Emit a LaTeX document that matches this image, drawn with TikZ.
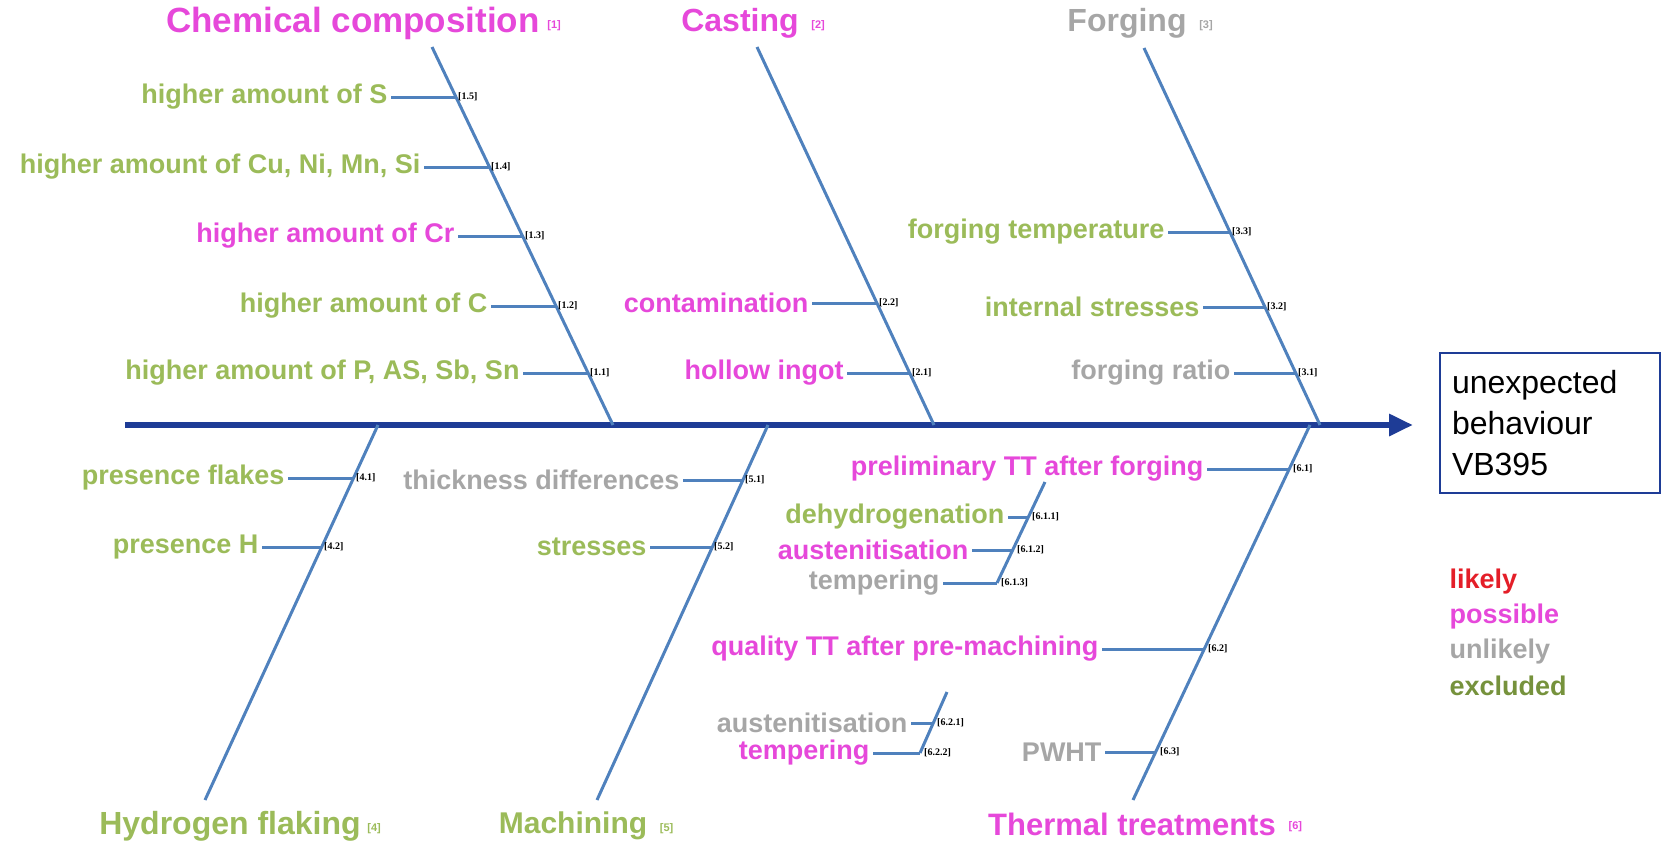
\documentclass[tikz,border=0pt]{standalone}
\usepackage{fontspec}
\setmainfont{Liberation Sans}
\newfontfamily\tagfont{Liberation Serif}
\usetikzlibrary{positioning,arrows.meta}

\definecolor{cpink}{RGB}{230,72,218}
\definecolor{cgreen}{RGB}{155,187,89}
\definecolor{cgray}{RGB}{166,166,166}
\definecolor{cdkgreen}{RGB}{118,146,60}
\definecolor{cred}{RGB}{228,30,40}
\definecolor{boneblue}{RGB}{79,129,189}
\definecolor{spineblue}{RGB}{30,60,150}

\begin{document}
\begin{tikzpicture}[x=1pt,y=-1pt,
  bone/.style={draw=boneblue,line width=3pt},
  cause/.style={font=\fontsize{27}{30}\selectfont\bfseries},
  head/.style={font=\fontsize{32}{36}\selectfont\bfseries},
  tag/.style={font=\tagfont\fontsize{10}{11}\selectfont\bfseries,inner sep=1pt},
  htag/.style={font=\fontsize{11}{12}\selectfont\bfseries,inner sep=1pt}
]
\useasboundingbox (0,0) rectangle (1666,849);

% spine and effect
\coordinate (tail) at (125,425);
\coordinate (tip) at (1413,425);
\draw[spineblue,line width=6pt,-{Triangle[length=24pt,width=21pt]}] (tail) -- (tip);
\node[draw=spineblue,line width=2.5pt,text width=196pt,inner sep=12pt,
      minimum height=140pt,align=left,font=\fontsize{32}{41}\selectfont] (effect)
      at (1550,423) {unexpected\\behaviour\\VB395};

% legend
\node[cause,anchor=west,text=cred] (lgLikely) at (1446,582) {likely};
\node[cause,anchor=west,text=cpink] (lgPossible) at (1446,617) {possible};
\node[cause,anchor=west,text=cgray] (lgUnlikely) at (1446,652) {unlikely};
\node[cause,anchor=west,text=cdkgreen] (lgExcluded) at (1446,686) {excluded};

% headings
\node[head,text=cpink,font=\fontsize{35}{38}\selectfont\bfseries] (hChem) at (353,23) {Chemical composition};
\node[head,text=cpink] (hCast) at (740,23) {Casting};
\node[head,text=cgray] (hForg) at (1127,23) {Forging};
\node[head,text=cgreen] (hHydr) at (230,826) {Hydrogen flaking};
\node[head,text=cgreen,font=\fontsize{30}{34}\selectfont\bfseries] (hMach) at (573,826) {Machining};
\node[head,text=cpink,font=\fontsize{31}{34}\selectfont\bfseries] (hTher) at (1132,824) {Thermal treatments};
\node[htag,text=cpink,right=3pt of hChem,yshift=-3pt] {[1]};
\node[htag,text=cpink,right=8pt of hCast,yshift=-3pt] {[2]};
\node[htag,text=cgray,right=8pt of hForg,yshift=-3pt] {[3]};
\node[htag,text=cgreen,right=2pt of hHydr,yshift=-3pt] {[4]};
\node[htag,text=cgreen,right=8pt of hMach,yshift=-3pt] {[5]};
\node[htag,text=cpink,right=8pt of hTher,yshift=-3pt] {[6]};

% bones
\coordinate (b1top) at (432,47);   \coordinate (b1bot) at (613,425);
\coordinate (b2top) at (757,47);   \coordinate (b2bot) at (934,425);
\coordinate (b3top) at (1144,48);  \coordinate (b3bot) at (1320,425);
\coordinate (b4top) at (378,425);  \coordinate (b4bot) at (205,800);
\coordinate (b5top) at (768,425);  \coordinate (b5bot) at (597,800);
\coordinate (b6top) at (1310,425); \coordinate (b6bot) at (1133,800);
\coordinate (s61top) at (1045,482); \coordinate (s61bot) at (997,583);
\coordinate (s62top) at (947,692);  \coordinate (s62bot) at (920,753);
\foreach \b in {b1,b2,b3,b4,b5,b6,s61,s62}
  \draw[bone] (\b top) -- (\b bot);

% (1) chemical composition
\foreach \i/\x/\y/\len/\col/\txt in {
  5/456/97/65pt/cgreen/{higher amount of S},
  4/489/167/65pt/cgreen/{higher amount of Cu, Ni, Mn, Si},
  3/523/236/65pt/cpink/{higher amount of Cr},
  2/556/306/65pt/cgreen/{higher amount of C},
  1/588/373/65pt/cgreen/{higher amount of P, AS, Sb, Sn}}{
  \coordinate (j1\i) at (\x,\y);
  \node[cause,text=\col,left=\len of j1\i] (c1\i) {\txt};
  \draw[bone] (c1\i.east) -- (j1\i);
  \node[tag,right=1pt of j1\i] {[1.\i]};
}

% (2) casting
\foreach \i/\x/\y/\len/\col/\txt in {
  2/877/303/65pt/cpink/{contamination},
  1/910/373/63pt/cpink/{hollow ingot}}{
  \coordinate (j2\i) at (\x,\y);
  \node[cause,text=\col,left=\len of j2\i] (c2\i) {\txt};
  \draw[bone] (c2\i.east) -- (j2\i);
  \node[tag,right=1pt of j2\i] {[2.\i]};
}

% (3) forging
\foreach \i/\x/\y/\len/\col/\txt in {
  3/1230/232/62pt/cgreen/{forging temperature},
  2/1265/307/62pt/cgreen/{internal stresses},
  1/1296/373/62pt/cgray/{forging ratio}}{
  \coordinate (j3\i) at (\x,\y);
  \node[cause,text=\col,left=\len of j3\i] (c3\i) {\txt};
  \draw[bone] (c3\i.east) -- (j3\i);
  \node[tag,right=1pt of j3\i] {[3.\i]};
}

% (4) hydrogen flaking
\foreach \i/\x/\y/\len/\col/\txt in {
  1/354/478/66pt/cgreen/{presence flakes},
  2/322/547/60pt/cgreen/{presence H}}{
  \coordinate (j4\i) at (\x,\y);
  \node[cause,text=\col,left=\len of j4\i] (c4\i) {\txt};
  \draw[bone] (c4\i.east) -- (j4\i);
  \node[tag,right=1pt of j4\i] {[4.\i]};
}

% (5) machining
\foreach \i/\x/\y/\len/\col/\txt in {
  1/743/480/60pt/cgray/{thickness differences},
  2/712/547/62pt/cgreen/{stresses}}{
  \coordinate (j5\i) at (\x,\y);
  \node[cause,text=\col,left=\len of j5\i] (c5\i) {\txt};
  \draw[bone] (c5\i.east) -- (j5\i);
  \node[tag,right=1pt of j5\i] {[5.\i]};
}

% (6) thermal treatments
\foreach \i/\x/\y/\len/\col/\txt/\t in {
  a/1289/469/82pt/cpink/{preliminary TT after forging}/6.1,
  b/1204/649/102pt/cpink/{quality TT after pre-machining}/6.2,
  c/1156/752/51pt/cgray/{PWHT}/6.3,
  d/1028/517/20pt/cgreen/{dehydrogenation}/6.1.1,
  e/1013/550/41pt/cpink/{austenitisation}/6.1.2,
  f/997/583/54pt/cgray/{tempering}/6.1.3,
  g/933/723/22pt/cgray/{austenitisation}/6.2.1,
  h/920/753/47pt/cpink/{tempering}/6.2.2}{
  \coordinate (j6\i) at (\x,\y);
  \node[cause,text=\col,left=\len of j6\i] (c6\i) {\txt};
  \draw[bone] (c6\i.east) -- (j6\i);
  \node[tag,right=3pt of j6\i] {[\t]};
}

\end{tikzpicture}
\end{document}
